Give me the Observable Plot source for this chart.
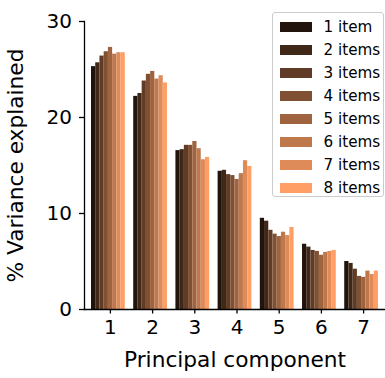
<!DOCTYPE html>
<html>
<head>
<meta charset="utf-8">
<script src="https://cdn.jsdelivr.net/npm/d3@7"></script>
<script src="https://cdn.jsdelivr.net/npm/@observablehq/plot@0.6"></script>
<style>
  body { margin: 0; background: #fff; }
  #chart { position: relative; width: 385px; height: 378px; font-family: "DejaVu Sans", sans-serif; }
  #legend { position: absolute; left: 271.5px; top: 12px; width: 112px; height: 185px; box-sizing: border-box;
            border: 1px solid #cccccc; border-radius: 3px; background: rgba(255,255,255,0.8); }
  .item { position: absolute; left: 7px; height: 10px; display: flex; align-items: center; }
  .sw { width: 32px; height: 10px; flex: none; }
  .lab { margin-left: 12px; font-size: 15.2px; color: #000; white-space: nowrap; line-height: 10px; }
</style>
</head>
<body>
<div id="chart"></div>
<script>
// ---- data ----
const components = [1, 2, 3, 4, 5, 6, 7];
const seriesNames = ["1 item", "2 items", "3 items", "4 items", "5 items", "6 items", "7 items", "8 items"];
const items1 = [25.3, 22.2, 16.55, 14.4, 9.5, 6.8, 5.0];
const items2 = [25.7, 22.5, 16.65, 14.5, 9.2, 6.5, 4.8];
const items3 = [26.4, 23.8, 17.1, 14.05, 8.25, 6.15, 4.2];
const items4 = [26.85, 24.5, 17.1, 13.95, 7.85, 6.05, 3.45];
const items5 = [27.3, 24.8, 17.5, 13.55, 7.6, 5.65, 3.35];
const items6 = [26.6, 24.0, 16.75, 14.15, 8.05, 5.95, 4.0];
const items7 = [26.75, 24.35, 15.6, 15.5, 7.7, 6.05, 3.65];
const items8 = [26.75, 23.6, 15.85, 14.9, 8.55, 6.15, 4.0];
const copperColors = ["#20140d", "#402819", "#603c26", "#805033", "#9f643f", "#bf784c", "#df8b59", "#ff9f65"];
const yTicks = [0, 10, 20, 30];
const xLabel = "Principal component";
const yLabel = "% Variance explained";

const seriesValues = [items1, items2, items3, items4, items5, items6, items7, items8];
const rows = [];
components.forEach((c, j) => {
  seriesValues.forEach((vals, i) => rows.push({component: c, series: seriesNames[i], value: vals[j]}));
});

const ink = "#000";
const W = 385, ML = 84, MR = 0;
const padIn = 0.2, padOut = 0.166;
// outer padding of the facet bands (the spines sit outside it, like matplotlib's axes edge)
const step = (W - ML - MR) / (components.length - padIn + 2 * padOut);
const outerPad = step * padOut;

const plot = Plot.plot({
  width: W,
  height: 378,
  marginLeft: ML,
  marginRight: MR,
  marginTop: 21,
  marginBottom: 69,
  style: {fontFamily: "DejaVu Sans", fontSize: "20px", color: ink, background: "#fff", overflow: "visible"},
  fx: {domain: components, paddingInner: padIn, paddingOuter: padOut, round: false},
  x: {domain: seriesNames, padding: 0, round: false, axis: null},
  y: {domain: [0, 30]},
  color: {domain: seriesNames, range: copperColors},
  marks: [
    Plot.barY(rows, {fx: "component", x: "series", y: "value", fill: "series", inset: 0}),
    Plot.frame({facet: "super", anchor: "bottom", insetLeft: -outerPad, insetRight: -outerPad, stroke: ink, strokeWidth: 1.3}),
    Plot.frame({facet: "super", anchor: "left", insetLeft: -outerPad, stroke: ink, strokeWidth: 1.3}),
    Plot.axisY({ticks: yTicks, tickSize: 5, tickPadding: 7.5, dx: -outerPad, strokeWidth: 1.3, label: null, fontSize: 20, fill: ink}),
    Plot.axisFx({anchor: "bottom", tickSize: 4.5, tickPadding: 6, dx: 2, strokeWidth: 1.3, label: null, fontSize: 20, fill: ink}),
    Plot.text([xLabel], {facet: "super", frameAnchor: "bottom", dy: 50.5, text: d => d, fontSize: 21.7, fill: ink, textAnchor: "middle", lineAnchor: "middle"}),
    Plot.text([yLabel], {facet: "super", frameAnchor: "left", dx: -75, rotate: -90, text: d => d, fontSize: 21.7, fill: ink, textAnchor: "middle", lineAnchor: "middle"})
  ]
});

const chart = document.getElementById("chart");
chart.appendChild(plot);

// legend built from the plot's color scale
const color = plot.scale("color");
const legend = document.createElement("div");
legend.id = "legend";
color.domain.forEach((name, i) => {
  const item = document.createElement("div");
  item.className = "item";
  item.style.top = (8.7 + 23 * i) + "px";
  const sw = document.createElement("div");
  sw.className = "sw";
  sw.style.background = color.range[i];
  const lab = document.createElement("span");
  lab.className = "lab";
  lab.textContent = name;
  item.appendChild(sw);
  item.appendChild(lab);
  legend.appendChild(item);
});
chart.appendChild(legend);
</script>
</body>
</html>
